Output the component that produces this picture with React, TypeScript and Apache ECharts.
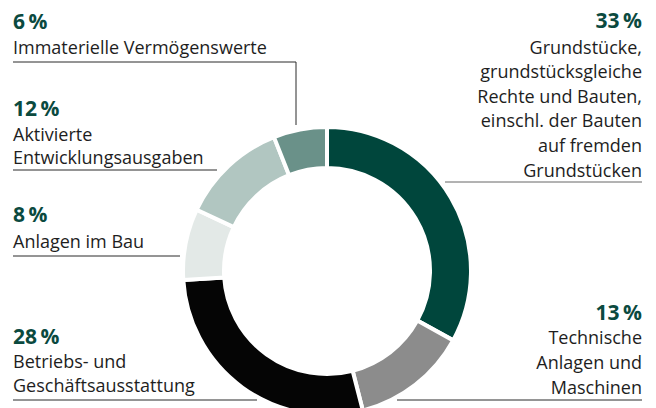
import React, { useEffect, useRef } from "react";
import * as echarts from "echarts";

const categories = [
  "Grundstücke, grundstücksgleiche Rechte und Bauten, einschl. der Bauten auf fremden Grundstücken",
  "Technische Anlagen und Maschinen",
  "Betriebs- und Geschäftsausstattung",
  "Anlagen im Bau",
  "Aktivierte Entwicklungsausgaben",
  "Immaterielle Vermögenswerte",
];
const values = [33, 13, 28, 8, 12, 6];
const labelLines = [
  ["Grundstücke,", "grundstücksgleiche", "Rechte und Bauten,", "einschl. der Bauten", "auf fremden", "Grundstücken"],
  ["Technische", "Anlagen und", "Maschinen"],
  ["Betriebs- und", "Geschäftsausstattung"],
  ["Anlagen im Bau"],
  ["Aktivierte", "Entwicklungsausgaben"],
  ["Immaterielle Vermögenswerte"],
];
const colors = ["#00463c", "#8c8c8c", "#050505", "#e3e9e7", "#b1c6c1", "#6a9189"];

// layout: anchor x, align, percent-center y, first-line center y, line step, leader polyline
const layouts = [
  { x: 642, align: "right", py: 19.5, ly: 46.5, step: 24.6, stroke: "#666666", line: [[445, 182], [642, 182]] },
  { x: 642, align: "right", py: 312, ly: 336.5, step: 25, stroke: "#2a2a2a", line: [[397, 400], [642, 400]] },
  { x: 13, align: "left", py: 335.5, ly: 360.5, step: 24.5, stroke: "#2a2a2a", line: [[13, 400], [257, 400]] },
  { x: 13, align: "left", py: 214, ly: 240.5, step: 24, stroke: "#2a2a2a", line: [[13, 256], [180, 256]] },
  { x: 13, align: "left", py: 107.5, ly: 133.5, step: 23, stroke: "#2a2a2a", line: [[13, 170], [217, 170]] },
  { x: 13, align: "left", py: 20.5, ly: 46.5, step: 24, stroke: "#2a2a2a", line: [[13, 62], [296, 62], [296, 125]] },
];

const FONT = "'Open Sans', sans-serif";

export default function App() {
  const ref = useRef<HTMLDivElement>(null);
  useEffect(() => {
    if (!ref.current) return;
    const chart = echarts.init(ref.current, undefined, { renderer: "svg" });
    const graphics: any[] = [];
    values.forEach((v, i) => {
      const L = layouts[i];
      graphics.push({
        type: "polyline",
        shape: { points: L.line },
        style: { stroke: L.stroke, lineWidth: 1, fill: null },
        z: 1,
      });
      graphics.push({
        type: "text",
        x: L.x,
        y: L.py,
        style: {
          text: `${v}\u2009%`,
          font: `bold 21px ${FONT}`,
          fill: "#0b4a3f",
          align: L.align,
          verticalAlign: "middle",
        },
      });
      labelLines[i].forEach((t, j) => {
        graphics.push({
          type: "text",
          x: L.x,
          y: L.ly + j * L.step,
          style: {
            text: t,
            font: `18px ${FONT}`,
            fill: "#1e1e1e",
            align: L.align,
            verticalAlign: "middle",
          },
        });
      });
    });
    chart.setOption({
      animation: false,
      backgroundColor: "#ffffff",
      series: [
        {
          type: "pie",
          center: [327, 271],
          radius: [103, 144],
          startAngle: 90,
          clockwise: true,
          label: { show: false },
          labelLine: { show: false },
          emphasis: { disabled: true },
          itemStyle: { borderColor: "#ffffff", borderWidth: 4 },
          data: values.map((v, i) => ({
            value: v,
            name: categories[i],
            itemStyle: { color: colors[i] },
          })),
          z: 2,
        },
      ],
      graphic: graphics,
    });
    return () => chart.dispose();
  }, []);
  return (
    <div
      ref={ref}
      style={{ position: "fixed", left: 0, top: 0, width: 656, height: 408 }}
    />
  );
}
